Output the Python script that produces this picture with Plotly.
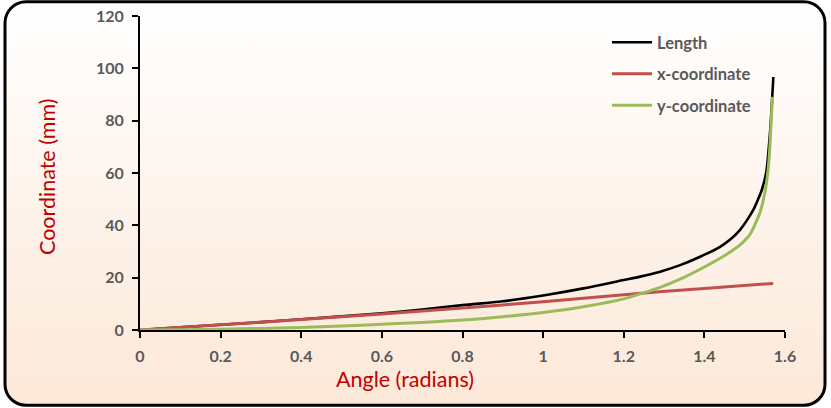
import base64
import plotly.graph_objects as go

# ---- data ----
theta_len = [0, 0.1, 0.2, 0.3, 0.4, 0.5, 0.6, 0.7, 0.8, 0.9, 1.0, 1.1, 1.2, 1.2407, 1.2903,
             1.3399, 1.3894, 1.439, 1.464, 1.4886, 1.505, 1.5216, 1.532, 1.5424, 1.5531,
             1.5593, 1.5642, 1.5679, 1.5711]
length_vals = [0, 1.0, 2.0, 3.0, 4.1, 5.2, 6.4, 7.8, 9.5, 11.0, 13.2, 15.9, 19.1, 20.4, 22.3,
               24.8, 28.0, 31.8, 34.6, 38.3, 41.8, 46.0, 49.5, 53.5, 60.0,
               68.8, 78.3, 87.9, 96.7]

theta_x = [0, 0.2, 0.4, 0.6, 0.8, 1.0, 1.2, 1.4, 1.5706]
x_vals = [0, 2.0, 4.0, 6.1, 8.4, 10.8, 13.5, 15.9, 17.8]

theta_y = [0, 0.1, 0.2, 0.3, 0.4, 0.5, 0.6, 0.7, 0.8, 0.9, 1.0, 1.1, 1.2, 1.2407, 1.2903,
           1.3399, 1.3894, 1.439, 1.464, 1.4886, 1.5, 1.5134, 1.525, 1.5382, 1.5506, 1.558,
           1.562, 1.5652, 1.5679, 1.5689]
y_vals = [0, 0.1, 0.3, 0.6, 1.0, 1.5, 2.2, 2.9, 3.8, 5.1, 6.7, 8.9, 11.9, 13.8, 16.3,
          19.4, 23.2, 27.4, 29.8, 32.5, 34.2, 36.6, 40.2, 45.0, 53.0, 61.1,
          68.8, 78.3, 86.0, 89.1]

series_names = ["Length", "x-coordinate", "y-coordinate"]
series_colors = ["#000000", "#C0504D", "#9BBB59"]
x_ticks = [0, 0.2, 0.4, 0.6, 0.8, 1.0, 1.2, 1.4, 1.6]
y_ticks = [0, 20, 40, 60, 80, 100, 120]

# ---- figure ----
W, H = 831, 408
ML, MR, MT, MB = 140, 46, 16, 78
PW, PH = W - ML - MR, H - MT - MB

fig = go.Figure()
for i, (tx, vals) in enumerate([(theta_len, length_vals), (theta_x, x_vals), (theta_y, y_vals)]):
    fig.add_trace(go.Scatter(
        x=tx, y=vals, mode="lines", name=series_names[i],
        legendgroup=series_names[i],
        line=dict(color=series_colors[i], width=2.6 if i == 0 else 3, shape="spline", smoothing=0.9),
    ))

svg = (
    '<svg xmlns="http://www.w3.org/2000/svg" width="831" height="408" viewBox="0 0 831 408" '
    'preserveAspectRatio="none"><defs><linearGradient id="g" x1="0" y1="0" x2="0" y2="1">'
    '<stop offset="0" stop-color="#FFFFFF"/><stop offset="1" stop-color="#FCE8D8"/>'
    '</linearGradient></defs><rect x="5" y="1.8" width="820" height="403.5" rx="21" ry="21" '
    'fill="url(#g)" stroke="#000000" stroke-width="3"/></svg>'
)
src = "data:image/svg+xml;base64," + base64.b64encode(svg.encode()).decode()

fig.add_layout_image(dict(
    source=src, xref="paper", yref="paper",
    x=-ML / PW, y=1 + MT / PH, sizex=W / PW, sizey=H / PH,
    xanchor="left", yanchor="top", sizing="stretch", layer="below",
))

tickfont = dict(family="Lato", size=16, color="#595959", weight="bold")
common = dict(
    showgrid=False, zeroline=False, automargin=False,
    showline=True, linecolor="#000000", linewidth=2,
    ticks="outside", ticklen=6, tickwidth=2, tickcolor="#000000",
    tickfont=tickfont, ticklabelstandoff=5,
)
fig.update_xaxes(range=[0, 1.6], tickvals=x_ticks, **common)
fig.update_yaxes(range=[0, 120], tickvals=y_ticks, **common)

fig.add_annotation(text="Angle (radians)", xref="paper", yref="paper",
                   x=(405 - ML) / PW, y=-(379 - MT - PH) / PH, showarrow=False,
                   font=dict(family="Lato", size=21.5, color="#C00000"),
                   xanchor="center", yanchor="middle")
fig.add_annotation(text="Coordinate (mm)", xref="paper", yref="paper",
                   x=(47 - ML) / PW, y=(MT + PH - 176) / PH, showarrow=False, textangle=-90,
                   font=dict(family="Lato", size=21.5, color="#C00000"),
                   xanchor="center", yanchor="middle")

fig.update_layout(
    width=W, height=H, autosize=False,
    margin=dict(l=ML, r=MR, t=MT, b=MB, autoexpand=False),
    paper_bgcolor="#FFFFFF", plot_bgcolor="rgba(0,0,0,0)",
    showlegend=True,
    legend=dict(
        x=(607 - ML) / PW, y=(MT + PH - 25) / PH, xanchor="left", yanchor="top",
        bgcolor="rgba(0,0,0,0)", font=dict(family="Lato", size=16.5, color="#595959", weight="bold"),
        tracegroupgap=7, itemwidth=40,
    ),
)

fig.write_html("out.html", config={"displayModeBar": False},
               post_script="document.body.style.margin='0px';")
